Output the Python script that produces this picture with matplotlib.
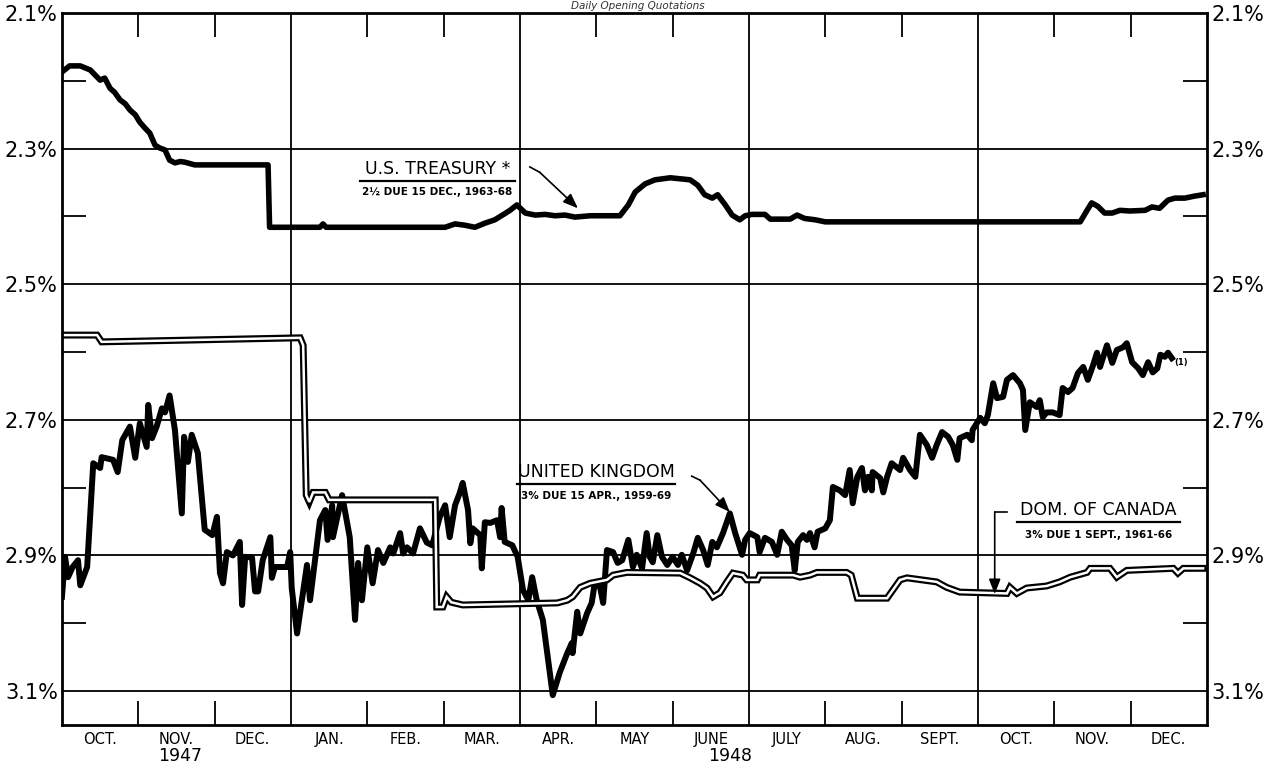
import matplotlib.pyplot as plt

# x = months since 1 Oct 1947 (0 = 1 Oct 1947, 15 = end of Dec 1948)
# y = yield in percent (axis inverted, as in the original)

US_MONTHS = [0.00, 0.10, 0.24, 0.37, 0.50, 0.56, 0.63, 0.69, 0.76, 0.83, 0.89, 0.96,
             1.02, 1.09, 1.15, 1.22, 1.28, 1.35, 1.41, 1.48, 1.55, 1.61, 1.74, 2.70,
             2.72, 3.38, 3.42, 3.46, 5.02, 5.15, 5.28, 5.41, 5.54, 5.67, 5.80, 5.87,
             5.96, 6.07, 6.20, 6.33, 6.46, 6.59, 6.72, 6.92, 7.31, 7.42, 7.51, 7.64,
             7.77, 7.97, 8.23, 8.33, 8.42, 8.52, 8.59, 8.69, 8.78, 8.88, 8.95, 9.04,
             9.21, 9.28, 9.54, 9.63, 9.73, 9.87, 10.00, 13.34, 13.43, 13.49, 13.57,
             13.66, 13.76, 13.86, 13.99, 14.19, 14.28, 14.38, 14.49, 14.58, 14.71,
             14.84, 14.95]
US_YIELD = [2.187, 2.178, 2.178, 2.184, 2.199, 2.196, 2.211, 2.217, 2.228, 2.234, 2.243,
            2.250, 2.261, 2.270, 2.277, 2.295, 2.299, 2.302, 2.317, 2.321, 2.319, 2.320,
            2.324, 2.324, 2.416, 2.416, 2.411, 2.416, 2.416, 2.411, 2.413, 2.416, 2.410,
            2.405, 2.396, 2.391, 2.383, 2.395, 2.398, 2.397, 2.399, 2.398, 2.401, 2.399,
            2.399, 2.383, 2.364, 2.352, 2.346, 2.343, 2.346, 2.354, 2.368, 2.373, 2.368,
            2.383, 2.398, 2.405, 2.399, 2.397, 2.397, 2.404, 2.404, 2.398, 2.403, 2.405,
            2.408, 2.408, 2.391, 2.380, 2.385, 2.395, 2.395, 2.391, 2.392, 2.391, 2.386,
            2.388, 2.376, 2.373, 2.373, 2.370, 2.368]

UK_MONTHS = [0.00, 0.04, 0.08, 0.14, 0.21, 0.24, 0.33, 0.41, 0.50, 0.52, 0.67, 0.73,
             0.79, 0.89, 0.96, 1.02, 1.11, 1.13, 1.18, 1.24, 1.31, 1.35, 1.41, 1.48,
             1.57, 1.60, 1.65, 1.70, 1.78, 1.87, 1.97, 2.03, 2.07, 2.11, 2.16, 2.24,
             2.33, 2.36, 2.40, 2.49, 2.53, 2.57, 2.63, 2.73, 2.75, 2.79, 2.95, 2.99,
             3.01, 3.08, 3.21, 3.25, 3.38, 3.45, 3.48, 3.54, 3.55, 3.67, 3.73, 3.77,
             3.84, 3.88, 3.93, 4.00, 4.07, 4.14, 4.21, 4.30, 4.34, 4.43, 4.47, 4.52,
             4.60, 4.69, 4.78, 4.85, 4.95, 5.02, 5.08, 5.15, 5.21, 5.25, 5.32, 5.35,
             5.38, 5.48, 5.50, 5.54, 5.61, 5.70, 5.74, 5.76, 5.80, 5.90, 5.97, 6.04,
             6.11, 6.16, 6.22, 6.30, 6.43, 6.52, 6.62, 6.68, 6.69, 6.75, 6.79, 6.88,
             6.94, 6.98, 7.05, 7.09, 7.14, 7.22, 7.28, 7.34, 7.42, 7.48, 7.53, 7.60,
             7.66, 7.70, 7.74, 7.80, 7.86, 7.93, 8.00, 8.07, 8.12, 8.19, 8.27, 8.33,
             8.40, 8.46, 8.52, 8.58, 8.66, 8.75, 8.82, 8.91, 8.95, 9.01, 9.11, 9.14,
             9.21, 9.30, 9.37, 9.43, 9.50, 9.56, 9.60, 9.64, 9.71, 9.76, 9.80, 9.86,
             9.90, 10.00, 10.06, 10.10, 10.19, 10.26, 10.32, 10.36, 10.42, 10.48,
             10.52, 10.56, 10.61, 10.62, 10.72, 10.76, 10.81, 10.87, 10.98, 11.02,
             11.11, 11.18, 11.24, 11.33, 11.40, 11.46, 11.53, 11.61, 11.67, 11.73,
             11.76, 11.86, 11.92, 11.93, 12.03, 12.09, 12.13, 12.20, 12.25, 12.33,
             12.38, 12.46, 12.55, 12.59, 12.62, 12.68, 12.77, 12.81, 12.85, 12.90,
             12.98, 13.07, 13.11, 13.18, 13.24, 13.31, 13.38, 13.44, 13.51, 13.56,
             13.60, 13.69, 13.76, 13.82, 13.90, 13.95, 14.02, 14.10, 14.16, 14.23,
             14.29, 14.35, 14.39, 14.45, 14.49, 14.54]
UK_YIELD = [2.961, 2.902, 2.932, 2.917, 2.907, 2.944, 2.917, 2.764, 2.771, 2.755, 2.759,
            2.777, 2.730, 2.710, 2.756, 2.705, 2.740, 2.678, 2.727, 2.710, 2.683, 2.689,
            2.664, 2.715, 2.838, 2.725, 2.762, 2.722, 2.749, 2.862, 2.870, 2.843, 2.926,
            2.941, 2.895, 2.900, 2.880, 2.973, 2.902, 2.903, 2.953, 2.953, 2.907, 2.873,
            2.933, 2.917, 2.917, 2.895, 2.948, 3.015, 2.914, 2.966, 2.848, 2.833, 2.877,
            2.826, 2.873, 2.811, 2.848, 2.873, 2.995, 2.911, 2.966, 2.888, 2.941, 2.892,
            2.911, 2.888, 2.897, 2.867, 2.897, 2.888, 2.897, 2.860, 2.881, 2.885, 2.843,
            2.826, 2.873, 2.826, 2.808, 2.793, 2.833, 2.882, 2.860, 2.870, 2.919, 2.851,
            2.852, 2.848, 2.873, 2.830, 2.880, 2.885, 2.902, 2.951, 2.966, 2.932, 2.966,
            2.995, 3.106, 3.073, 3.044, 3.029, 3.044, 2.983, 3.015, 2.985, 2.970, 2.941,
            2.947, 2.970, 2.892, 2.895, 2.911, 2.907, 2.877, 2.917, 2.899, 2.919, 2.867,
            2.902, 2.910, 2.870, 2.902, 2.914, 2.902, 2.914, 2.899, 2.922, 2.897, 2.874,
            2.892, 2.914, 2.880, 2.888, 2.867, 2.838, 2.867, 2.899, 2.877, 2.867, 2.873,
            2.895, 2.874, 2.880, 2.899, 2.865, 2.877, 2.885, 2.922, 2.880, 2.870, 2.877,
            2.867, 2.888, 2.865, 2.860, 2.848, 2.799, 2.804, 2.811, 2.774, 2.823, 2.784,
            2.771, 2.804, 2.784, 2.804, 2.777, 2.786, 2.807, 2.784, 2.764, 2.774, 2.756,
            2.774, 2.784, 2.722, 2.737, 2.756, 2.737, 2.718, 2.725, 2.737, 2.759, 2.727,
            2.722, 2.730, 2.715, 2.697, 2.705, 2.693, 2.646, 2.668, 2.666, 2.641, 2.634,
            2.646, 2.656, 2.715, 2.674, 2.681, 2.671, 2.696, 2.689, 2.689, 2.693, 2.653,
            2.659, 2.653, 2.631, 2.622, 2.641, 2.619, 2.601, 2.622, 2.590, 2.616, 2.597,
            2.593, 2.587, 2.615, 2.624, 2.634, 2.615, 2.630, 2.624, 2.604, 2.607, 2.601,
            2.609]

CAN_MONTHS = [0.00, 0.46, 0.52, 3.12, 3.16, 3.20, 3.24, 3.29, 3.45, 3.50, 4.89, 4.91,
              4.99, 5.04, 5.10, 5.25, 6.49, 6.62, 6.69, 6.79, 6.92, 7.14, 7.22, 7.40,
              8.10, 8.23, 8.36, 8.45, 8.53, 8.62, 8.71, 8.79, 8.92, 8.97, 9.11, 9.14,
              9.58, 9.67, 9.80, 9.89, 10.28, 10.34, 10.42, 10.81, 10.98, 11.07, 11.46,
              11.59, 11.76, 12.38, 12.42, 12.51, 12.64, 12.90, 13.07, 13.21, 13.43,
              13.47, 13.73, 13.82, 13.95, 14.56, 14.62, 14.69, 14.95]
CAN_YIELD = [2.575, 2.575, 2.585, 2.579, 2.590, 2.811, 2.821, 2.807, 2.807, 2.818, 2.818,
             2.976, 2.976, 2.961, 2.969, 2.973, 2.970, 2.966, 2.961, 2.947, 2.941, 2.936,
             2.929, 2.925, 2.926, 2.933, 2.941, 2.948, 2.961, 2.955, 2.939, 2.926, 2.929,
             2.936, 2.936, 2.929, 2.929, 2.932, 2.929, 2.925, 2.925, 2.929, 2.963, 2.963,
             2.936, 2.933, 2.939, 2.947, 2.954, 2.956, 2.947, 2.956, 2.948, 2.945, 2.939,
             2.932, 2.925, 2.919, 2.919, 2.932, 2.922, 2.919, 2.926, 2.919, 2.919]

MONTH_LABELS = ["OCT.", "NOV.", "DEC.", "JAN.", "FEB.", "MAR.", "APR.", "MAY",
                "JUNE", "JULY", "AUG.", "SEPT.", "OCT.", "NOV.", "DEC."]
YIELD_LABELS = [2.1, 2.3, 2.5, 2.7, 2.9, 3.1]
YIELD_MINOR = [2.2, 2.4, 2.6, 2.8, 3.0]
QUARTER_LINES = [3, 6, 9, 12]

plt.rcParams["font.family"] = ["DejaVu Sans"]

fig = plt.figure(figsize=(12.75, 7.65), dpi=100)
ax = fig.add_axes([0.0486, 0.0523, 0.898, 0.9307])

ax.set_xlim(0, 15)
ax.set_ylim(3.15, 2.1)

# grid: labelled yields and quarter lines run across the whole frame
for v in YIELD_LABELS[1:]:
    ax.axhline(v, color="black", lw=1.3, zorder=1)
for q in QUARTER_LINES:
    ax.axvline(q, color="black", lw=1.3, zorder=1)

# series
ax.plot(US_MONTHS, US_YIELD, color="black", lw=4.0, solid_joinstyle="round", zorder=3)
ax.plot(UK_MONTHS, UK_YIELD, color="black", lw=4.3, solid_joinstyle="round", zorder=3)
ax.plot(CAN_MONTHS, CAN_YIELD, color="black", lw=5.0, solid_joinstyle="miter", zorder=4)
ax.plot(CAN_MONTHS, CAN_YIELD, color="white", lw=1.8, solid_joinstyle="miter", zorder=5)

# y axis: labels both sides, short inward ticks at the in-between values
ax.set_yticks(YIELD_LABELS)
ax.set_yticklabels([f"{v:.1f}%" for v in YIELD_LABELS])
ax.set_yticks(YIELD_MINOR, minor=True)
ax.tick_params(axis="y", which="major", length=0, pad=3, labelsize=15,
               left=True, right=True, labelleft=True, labelright=True)
ax.tick_params(axis="y", which="minor", direction="in", length=17, width=1.3,
               left=True, right=True)

# x axis: month boundary ticks, labels centred in each month
month_edges = [m for m in range(1, 15) if m not in QUARTER_LINES]
ax.set_xticks(month_edges)
ax.set_xticklabels([])
ax.tick_params(axis="x", which="major", direction="in", length=17, width=1.3,
               top=True, bottom=True)
ax.set_xticks([m + 0.5 for m in range(15)], minor=True)
ax.set_xticklabels(MONTH_LABELS, minor=True)
ax.tick_params(axis="x", which="minor", length=0, pad=5, labelsize=10.5)

for s in ax.spines.values():
    s.set_linewidth(2)
    s.set_zorder(6)

fig.text(0.141, 0.0115, "1947", ha="center", va="center", fontsize=12.5)
fig.text(0.5725, 0.0115, "1948", ha="center", va="center", fontsize=12.5)
fig.text(0.5, 0.999, "Daily Opening Quotations", ha="center", va="top",
         fontsize=7.5, style="italic", color="#333333")


def label(xc, v_title, x0, x1, v_line, v_sub, title, sub):
    ax.text(xc, v_title, title, ha="center", va="bottom", fontsize=12.5, zorder=7)
    ax.plot([x0, x1], [v_line, v_line], color="black", lw=1.6, zorder=7)
    ax.text(xc, v_sub, sub, ha="center", va="center", fontsize=7.5,
            fontweight="bold", zorder=7)


def hook_arrow(points):
    xs = [p[0] for p in points]
    ys = [p[1] for p in points]
    ax.plot(xs[:-1], ys[:-1], color="black", lw=1.2, zorder=7)
    ax.annotate("", xy=points[-1], xytext=points[-2], zorder=7,
                arrowprops=dict(arrowstyle="-|>,head_length=0.9,head_width=0.35",
                                color="black", lw=1.2, shrinkA=0, shrinkB=0))


label(4.92, 2.343, 3.90, 5.93, 2.348, 2.364,
      "U.S. TREASURY *", "2½ DUE 15 DEC., 1963-68")
hook_arrow([(6.13, 2.327), (6.26, 2.335), (6.76, 2.388)])

label(7.0, 2.790, 5.96, 8.03, 2.795, 2.812,
      "UNITED KINGDOM", "3% DUE 15 APR., 1959-69")
hook_arrow([(8.25, 2.783), (8.36, 2.789), (8.75, 2.836)])

label(13.58, 2.846, 12.51, 14.65, 2.851, 2.870,
      "DOM. OF CANADA", "3% DUE 1 SEPT., 1961-66")
hook_arrow([(12.38, 2.836), (12.22, 2.836), (12.22, 2.957)])

ax.text(14.66, 2.615, "(1)", ha="center", va="center", fontsize=6, fontweight="bold")

fig.savefig("out.png", dpi=100)
